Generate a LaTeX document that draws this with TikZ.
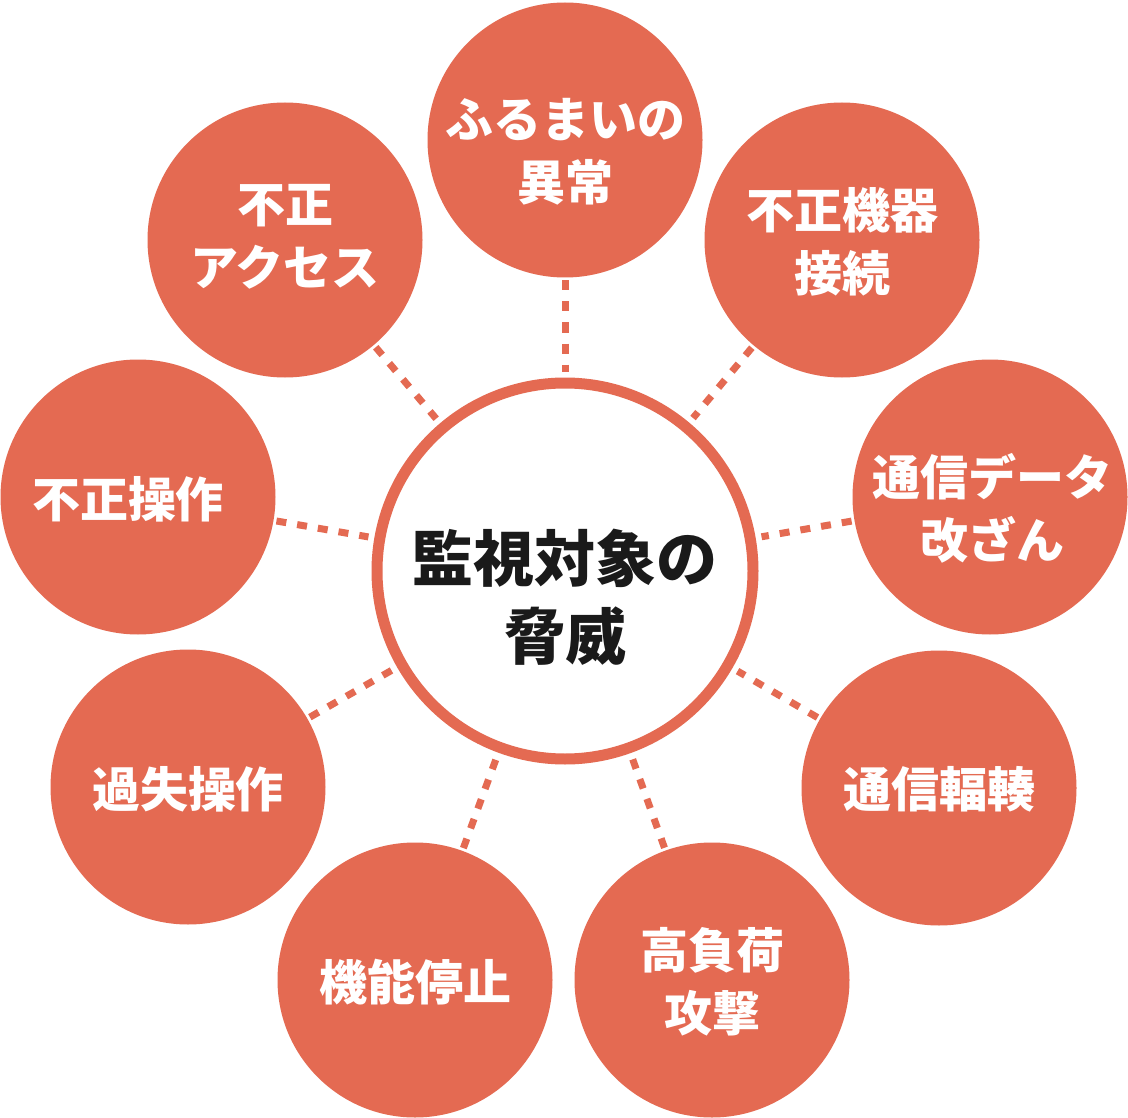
\documentclass[tikz,border=0pt]{standalone}
\usepackage{fontspec}
\newfontfamily\jp{Noto Sans CJK JP}
\definecolor{tomato}{HTML}{E46A52}
\definecolor{ink}{HTML}{1A1A1A}
\begin{document}
\begin{tikzpicture}[x=1pt,y=-1pt,
  threat/.style={circle,fill=tomato,minimum size=275pt,inner sep=0pt,outer sep=0pt},
  caption/.style={text=white,font=\jp\bfseries\fontsize{48}{63}\selectfont,align=center,inner sep=0pt},
  hub/.style={circle,draw=tomato,line width=11pt,fill=white,minimum size=376pt,inner sep=0pt},
  hubtext/.style={text=ink,font=\jp\bfseries\fontsize{61}{78}\selectfont,align=center,inner sep=0pt},
  link/.style={draw=tomato,line width=7pt,dash pattern=on 10pt off 11pt,shorten <=3pt,shorten >=6pt}]
\useasboundingbox[fill=white] (0,0) rectangle (1128,1118);
\node[hub] (hub) at (565,571) {};
\node[hubtext] (title) at (565,597) {監視対象の\\脅威};
\node[threat] (t1) at (565,140) {};
\node[threat] (t2) at (842,240) {};
\node[threat] (t3) at (990,497) {};
\node[threat] (t4) at (939,788) {};
\node[threat] (t5) at (712,980) {};
\node[threat] (t6) at (415,980) {};
\node[threat] (t7) at (188,787) {};
\node[threat] (t8) at (138,497) {};
\node[threat] (t9) at (285,240) {};
\node[caption] (c1) at (565,152) {ふるまいの\\異常};
\node[caption] (c2) at (842,242) {不正機器\\接続};
\node[caption] (c3) at (992,508) {通信データ\\改ざん};
\node[caption] (c4) at (939,789) {通信輻輳};
\node[caption] (c5) at (712,982) {高負荷\\攻撃};
\node[caption] (c6) at (415,982) {機能停止};
\node[caption] (c7) at (188,789) {過失操作};
\node[caption] (c8) at (128,499) {不正操作};
\node[caption] (c9) at (285,237) {不正\\アクセス};
\foreach \i in {1,...,9} {\draw[link] (t\i) -- (hub);}
\end{tikzpicture}
\end{document}
